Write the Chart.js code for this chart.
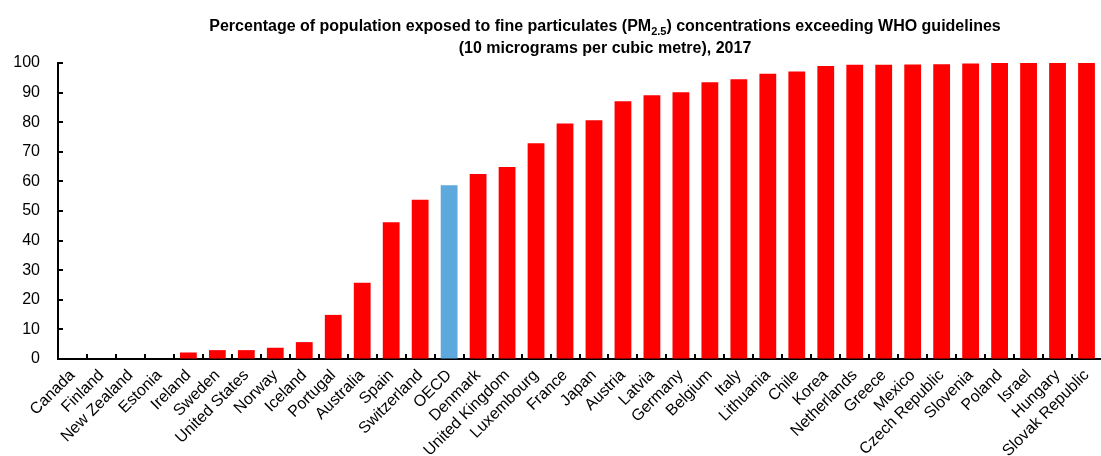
<!DOCTYPE html>
<html>
<head>
<meta charset="utf-8">
<script src="https://cdn.jsdelivr.net/npm/chart.js@4/dist/chart.umd.min.js"></script>
<style>
  html, body { margin: 0; padding: 0; background: #fff; }
  #wrap { width: 1101px; height: 456px; }
</style>
</head>
<body>
<div id="wrap"><canvas id="pmChart"></canvas></div>
<script>
const countries = ['Canada', 'Finland', 'New Zealand', 'Estonia', 'Ireland', 'Sweden', 'United States', 'Norway',
  'Iceland', 'Portugal', 'Australia', 'Spain', 'Switzerland', 'OECD', 'Denmark', 'United Kingdom', 'Luxembourg',
  'France', 'Japan', 'Austria', 'Latvia', 'Germany', 'Belgium', 'Italy', 'Lithuania', 'Chile', 'Korea',
  'Netherlands', 'Greece', 'Mexico', 'Czech Republic', 'Slovenia', 'Poland', 'Israel', 'Hungary', 'Slovak Republic'];
const exposed = [0, 0, 0, 0, 2.2, 3.0, 3.0, 3.8,
  5.7, 14.9, 25.8, 46.2, 53.8, 58.7, 62.5, 64.9, 72.9,
  79.6, 80.7, 87.1, 89.1, 90.1, 93.5, 94.5, 96.4, 97.1, 99.0,
  99.4, 99.4, 99.5, 99.6, 99.8, 100, 100, 100, 100];
const yTicks = [0, 10, 20, 30, 40, 50, 60, 70, 80, 90, 100];

const barColors = countries.map(c => c === 'OECD' ? '#5DA9DD' : '#FF0000');

// title with subscript PM2.5
const titlePlugin = {
  id: 'subTitle',
  afterDraw(chart) {
    const ctx = chart.ctx;
    const cx = 605;
    const big = 'bold 16px "Liberation Sans", Arial';
    const small = 'bold 11px "Liberation Sans", Arial';
    const parts = [
      ['Percentage of population exposed to fine particulates (PM', big, 0],
      ['2.5', small, 4],
      [') concentrations exceeding WHO guidelines', big, 0]
    ];
    ctx.save();
    ctx.fillStyle = '#000';
    ctx.textBaseline = 'alphabetic';
    let total = 0;
    parts.forEach(p => { ctx.font = p[1]; total += ctx.measureText(p[0]).width; });
    let x = cx - total / 2;
    parts.forEach(p => {
      ctx.font = p[1];
      ctx.fillText(p[0], x, 31 + p[2]);
      x += ctx.measureText(p[0]).width;
    });
    ctx.font = big;
    ctx.textAlign = 'center';
    ctx.fillText('(10 micrograms per cubic metre), 2017', cx, 53);
    ctx.restore();
  }
};

// short inward tick marks on both axes
const innerTicks = {
  id: 'innerTicks',
  afterDatasetsDraw(chart) {
    const ctx = chart.ctx;
    const xs = chart.scales.x, ys = chart.scales.y;
    const area = chart.chartArea;
    ctx.save();
    ctx.strokeStyle = '#000';
    ctx.lineWidth = 2;
    ctx.beginPath();
    for (let i = 1; i < countries.length; i++) {
      const px = Math.round((xs.getPixelForValue(i - 1) + xs.getPixelForValue(i)) / 2);
      ctx.moveTo(px, area.bottom);
      ctx.lineTo(px, area.bottom - 5);
    }
    yTicks.forEach(v => {
      const py = Math.round(ys.getPixelForValue(v));
      ctx.moveTo(area.left, py);
      ctx.lineTo(area.left + 5, py);
    });
    ctx.stroke();
    ctx.restore();
  }
};

new Chart(document.getElementById('pmChart').getContext('2d'), {
  type: 'bar',
  data: {
    labels: countries,
    datasets: [{
      label: 'Exposed population (%)',
      data: exposed,
      backgroundColor: barColors,
      barPercentage: 0.58,
      categoryPercentage: 1
    }]
  },
  options: {
    responsive: true,
    maintainAspectRatio: false,
    animation: false,
    layout: { padding: { top: 63, left: 13, right: 0, bottom: 0 } },
    plugins: { legend: { display: false }, title: { display: false }, tooltip: { enabled: false } },
    scales: {
      x: {
        grid: { drawOnChartArea: false, drawTicks: false },
        border: { color: '#000', width: 2 },
        afterFit: s => { s.paddingLeft = 0; s.paddingRight = 0; s.height = 97; },
        ticks: {
          color: '#000',
          font: { family: '"Liberation Sans", Arial', size: 16 },
          autoSkip: false,
          minRotation: 45,
          maxRotation: 45,
          padding: 7
        }
      },
      y: {
        min: 0,
        max: 100,
        grid: { drawOnChartArea: false, drawTicks: false },
        border: { color: '#000', width: 2 },
        afterBuildTicks: axis => { axis.ticks = yTicks.map(v => ({ value: v })); },
        afterFit: s => { s.width = 45; },
        ticks: {
          color: '#000',
          font: { family: '"Liberation Sans", Arial', size: 16 },
          padding: 18
        }
      }
    }
  },
  plugins: [titlePlugin, innerTicks]
});
</script>
</body>
</html>
